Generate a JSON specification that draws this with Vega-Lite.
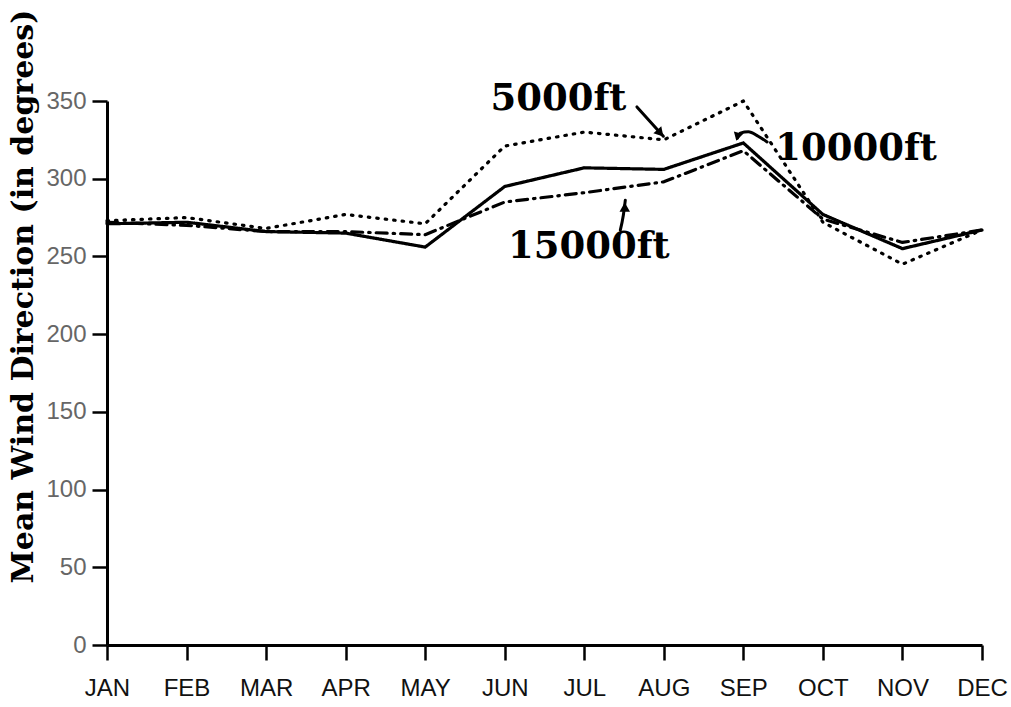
{
  "$schema": "https://vega.github.io/schema/vega-lite/v6.json",
  "width": 875,
  "height": 544,
  "autosize": {"type": "none"},
  "padding": {"left": 107, "top": 101, "right": 29, "bottom": 62},
  "background": "white",
  "config": {"view": {"stroke": null}},
  "datasets": {
    "series": [
      {"month": 1, "alt": "5000ft", "dir": 273}, {"month": 2, "alt": "5000ft", "dir": 275}, {"month": 3, "alt": "5000ft", "dir": 268},
      {"month": 4, "alt": "5000ft", "dir": 277}, {"month": 5, "alt": "5000ft", "dir": 271}, {"month": 6, "alt": "5000ft", "dir": 321},
      {"month": 7, "alt": "5000ft", "dir": 330}, {"month": 8, "alt": "5000ft", "dir": 325}, {"month": 9, "alt": "5000ft", "dir": 350},
      {"month": 10, "alt": "5000ft", "dir": 272}, {"month": 11, "alt": "5000ft", "dir": 245}, {"month": 12, "alt": "5000ft", "dir": 267},
      {"month": 1, "alt": "10000ft", "dir": 271}, {"month": 2, "alt": "10000ft", "dir": 272}, {"month": 3, "alt": "10000ft", "dir": 266},
      {"month": 4, "alt": "10000ft", "dir": 265}, {"month": 5, "alt": "10000ft", "dir": 256}, {"month": 6, "alt": "10000ft", "dir": 295},
      {"month": 7, "alt": "10000ft", "dir": 307}, {"month": 8, "alt": "10000ft", "dir": 306}, {"month": 9, "alt": "10000ft", "dir": 323},
      {"month": 10, "alt": "10000ft", "dir": 277}, {"month": 11, "alt": "10000ft", "dir": 255}, {"month": 12, "alt": "10000ft", "dir": 267},
      {"month": 1, "alt": "15000ft", "dir": 272}, {"month": 2, "alt": "15000ft", "dir": 270}, {"month": 3, "alt": "15000ft", "dir": 266},
      {"month": 4, "alt": "15000ft", "dir": 266}, {"month": 5, "alt": "15000ft", "dir": 264}, {"month": 6, "alt": "15000ft", "dir": 285},
      {"month": 7, "alt": "15000ft", "dir": 291}, {"month": 8, "alt": "15000ft", "dir": 298}, {"month": 9, "alt": "15000ft", "dir": 318},
      {"month": 10, "alt": "15000ft", "dir": 274}, {"month": 11, "alt": "15000ft", "dir": 259}, {"month": 12, "alt": "15000ft", "dir": 267}
    ],
    "labels": [
      {"label": "5000ft", "month": 5.82, "dir": 344},
      {"label": "10000ft", "month": 9.40, "dir": 312},
      {"label": "15000ft", "month": 6.04, "dir": 249}
    ],
    "arrows": [
      {"arrow": "a5000", "seq": 1, "month": 7.662, "dir": 346.2},
      {"arrow": "a5000", "seq": 2, "month": 7.994, "dir": 327.3},
      {"arrow": "a15000", "seq": 1, "month": 7.453, "dir": 266.9},
      {"arrow": "a15000", "seq": 2, "month": 7.491, "dir": 276.5},
      {"arrow": "a15000", "seq": 3, "month": 7.516, "dir": 286.2},
      {"arrow": "a10000", "seq": 1, "month": 9.298, "dir": 323.7},
      {"arrow": "a10000", "seq": 2, "month": 9.186, "dir": 327.3},
      {"arrow": "a10000", "seq": 3, "month": 9.063, "dir": 330.2},
      {"arrow": "a10000", "seq": 4, "month": 8.962, "dir": 329.3},
      {"arrow": "a10000", "seq": 5, "month": 8.925, "dir": 326.0}
    ],
    "heads": [
      {"arrow": "a5000", "month": 7.956, "dir": 329.3},
      {"arrow": "a15000", "month": 7.509, "dir": 281.7},
      {"arrow": "a10000", "month": 8.925, "dir": 327.0}
    ]
  },
  "encoding": {
    "x": {
      "field": "month", "type": "quantitative",
      "scale": {"domain": [1, 12], "nice": false, "zero": false},
      "axis": {
        "values": [1, 2, 3, 4, 5, 6, 7, 8, 9, 10, 11, 12],
        "labelExpr": "['JAN','FEB','MAR','APR','MAY','JUN','JUL','AUG','SEP','OCT','NOV','DEC'][datum.value-1]",
        "title": null, "grid": false,
        "domainColor": "black", "domainWidth": 3,
        "tickColor": "black", "tickWidth": 2.5, "tickSize": 15,
        "labelFont": "Liberation Sans", "labelFontSize": 24, "labelColor": "#111",
        "labelPadding": 16, "labelFlush": false, "labelOverlap": false
      }
    },
    "y": {
      "field": "dir", "type": "quantitative",
      "scale": {"domain": [0, 350], "nice": false},
      "title": "Mean Wind Direction (in degrees)",
      "axis": {
        "values": [0, 50, 100, 150, 200, 250, 300, 350],
        "grid": false,
        "domainColor": "black", "domainWidth": 3,
        "tickColor": "black", "tickWidth": 2.5, "tickSize": 15,
        "labelFont": "Liberation Sans", "labelFontSize": 24, "labelColor": "#666",
        "labelPadding": 6,
        "titleFont": "DejaVu Serif", "titleFontWeight": "bold", "titleFontSize": 30,
        "titleColor": "black", "titleAngle": 270, "titleX": -75, "titleY": 195,
        "titleAlign": "center", "titleBaseline": "alphabetic"
      }
    }
  },
  "layer": [
    {
      "data": {"name": "series"},
      "mark": {"type": "line", "color": "black", "strokeWidth": 3.2, "strokeCap": "round", "strokeJoin": "round"},
      "encoding": {
        "detail": {"field": "alt", "type": "nominal"},
        "strokeDash": {
          "field": "alt", "type": "nominal",
          "scale": {"domain": ["5000ft", "10000ft", "15000ft"], "range": [[1.5, 7], [1, 0], [11, 6, 1.5, 6]]},
          "legend": null
        }
      }
    },
    {
      "data": {"name": "arrows"},
      "mark": {"type": "line", "color": "black", "strokeWidth": 3, "strokeCap": "round", "interpolate": "monotone"},
      "encoding": {
        "detail": {"field": "arrow", "type": "nominal"},
        "order": {"field": "seq", "type": "quantitative"}
      }
    },
    {
      "data": {"name": "heads"},
      "transform": [{"filter": "datum.arrow == 'a5000'"}],
      "mark": {"type": "point", "shape": "triangle-up", "filled": true, "color": "black", "size": 110, "angle": 139, "opacity": 1}
    },
    {
      "data": {"name": "heads"},
      "transform": [{"filter": "datum.arrow == 'a15000'"}],
      "mark": {"type": "point", "shape": "triangle-up", "filled": true, "color": "black", "size": 110, "angle": 0, "opacity": 1}
    },
    {
      "data": {"name": "heads"},
      "transform": [{"filter": "datum.arrow == 'a10000'"}],
      "mark": {"type": "point", "shape": "triangle-up", "filled": true, "color": "black", "size": 90, "angle": 195, "opacity": 1}
    },
    {
      "data": {"name": "labels"},
      "mark": {"type": "text", "align": "left", "baseline": "alphabetic", "font": "DejaVu Serif", "fontWeight": "bold", "fontSize": 37, "color": "black"},
      "encoding": {"text": {"field": "label", "type": "nominal"}}
    }
  ]
}
